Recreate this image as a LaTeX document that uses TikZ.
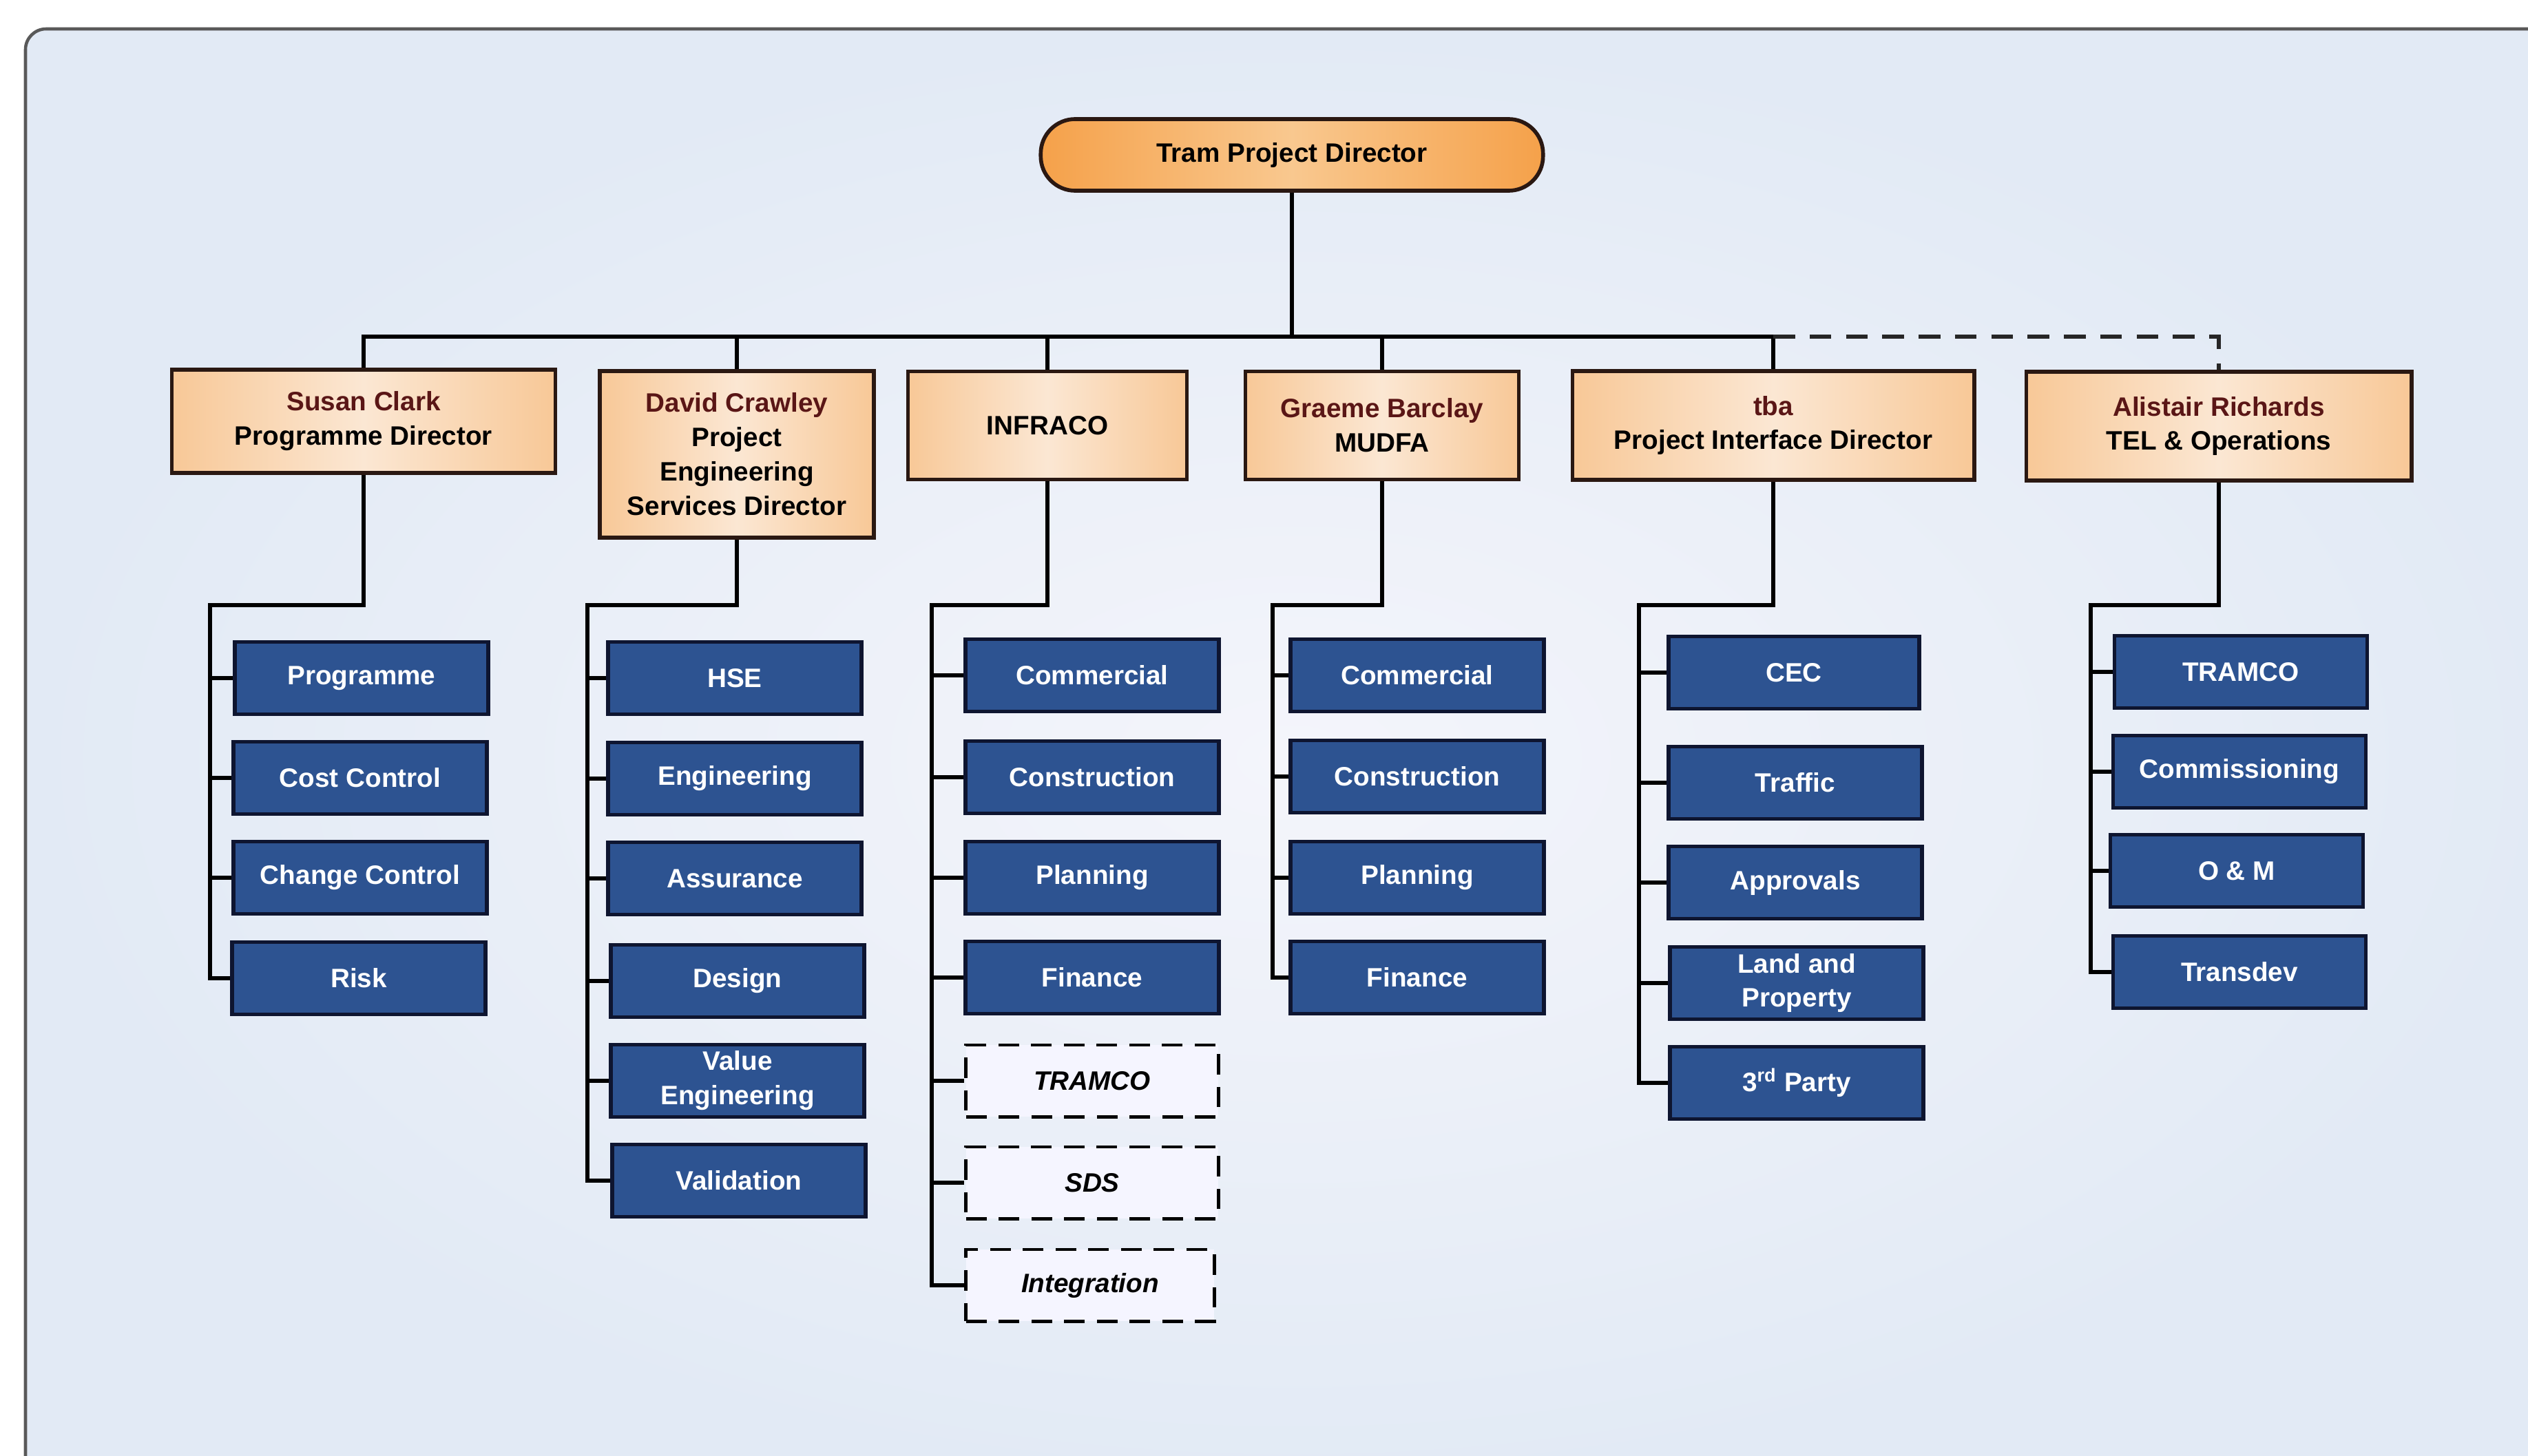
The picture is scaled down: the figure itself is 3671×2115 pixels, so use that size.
\documentclass[tikz,border=0pt]{standalone}
\usepackage{fontspec}
\setmainfont{Liberation Sans}
\definecolor{bgout}{HTML}{E2EAF5}
\definecolor{bgin}{HTML}{F4F5FB}
\definecolor{pch}{HTML}{F8C897}
\definecolor{pchc}{HTML}{FBE7D3}
\definecolor{orgE}{HTML}{F5A14A}
\definecolor{orgC}{HTML}{F9C88F}
\definecolor{bluefill}{HTML}{2D5391}
\definecolor{blueline}{HTML}{0E1530}
\definecolor{nm}{HTML}{5A1616}
\definecolor{boxline}{HTML}{2A1812}
\begin{document}
\begin{tikzpicture}[x=0.01cm,y=-0.01cm,
  txt/.style={font=\bfseries\fontsize{11}{14.2}\selectfont},
  conn/.style={line width=1.5pt, draw=black, line join=miter},
  dashconn/.style={line width=1.5pt, draw=black!85, dash pattern=on 9pt off 6pt},
  tpdbox/.style={txt, draw=boxline, line width=1.6pt, left color=orgE, right color=orgE, middle color=orgC,
     rounded corners=0.5cm, minimum width=7.29cm, minimum height=1.04cm, inner sep=0pt},
  topbox/.style={txt, draw=boxline, line width=1.6pt, left color=pch, right color=pch, middle color=pchc,
     align=center, inner sep=0pt},
  bluebox/.style={txt, draw=blueline, line width=1.6pt, fill=bluefill, text=white, align=center,
     minimum width=3.68cm, minimum height=1.05cm, inner sep=0pt},
  dashbox/.style={font=\bfseries\itshape\fontsize{11}{14.2}\selectfont, draw=black, line width=1.4pt,
     dash pattern=on 8.5pt off 5pt, fill=white!96!blue, minimum width=3.66cm, minimum height=1.04cm, inner sep=0pt}
]
\useasboundingbox (0,0) rectangle (3671,2115);
% background and frame
\fill[white] (0,0) rectangle (3671,2115);
\shade[inner color=bgin, outer color=bgout, rounded corners=0.3cm] (37,2160) -- (37,42) -- (3720,42) -- (3720,2160) -- cycle;
\draw[line width=1.3pt, black!65, rounded corners=0.3cm] (37,2160) -- (37,42) -- (3720,42);

% top level
\node[tpdbox] (tpd) at (1876,225) {Tram Project Director};
\node[topbox, minimum width=5.57cm, minimum height=1.50cm] (sc) at (528,612)
  {\textcolor{nm}{Susan Clark}\\Programme Director};
\node[topbox, minimum width=3.98cm, minimum height=2.42cm] (dc) at (1070,660)
  {\textcolor{nm}{David Crawley}\\Project\\Engineering\\Services Director};
\node[topbox, minimum width=4.05cm, minimum height=1.57cm] (inf) at (1521,618) {INFRACO};
\node[topbox, minimum width=3.97cm, minimum height=1.57cm] (gb) at (2007,618)
  {\textcolor{nm}{Graeme Barclay}\\MUDFA};
\node[topbox, minimum width=5.83cm, minimum height=1.58cm] (tba) at (2575,618)
  {\textcolor{nm}{tba}\\Project Interface Director};
\node[topbox, minimum width=5.59cm, minimum height=1.58cm] (ar) at (3222,619)
  {\textcolor{nm}{Alistair Richards}\\TEL \& Operations};

% bus
\coordinate (bus) at (0,489);
\coordinate (brk) at (0,879);
\draw[conn] (tpd.south) -- (tpd.south |- bus);
\draw[conn] (sc.north) -- (sc.north |- bus) -- (tba.north |- bus) -- (tba.north);
\draw[conn] (dc.north) -- (dc.north |- bus);
\draw[conn] (inf.north) -- (inf.north |- bus);
\draw[conn] (gb.north) -- (gb.north |- bus);
\draw[dashconn] (tba.north |- bus) -- (ar.north |- bus) -- (ar.north);

% column 1
\node[bluebox] (c1a) at (525,985) {Programme};
\node[bluebox] (c1b) at (523,1130) {Cost Control};
\node[bluebox] (c1c) at (523,1275) {Change Control};
\node[bluebox] (c1d) at (521,1421) {Risk};
\coordinate (b1) at (305,879);
\draw[conn] (sc.south) -- (sc.south |- brk) -- (b1) |- (c1d.west);
\foreach \n in {c1a,c1b,c1c} \draw[conn] (b1 |- \n.west) -- (\n.west);

% column 2
\node[bluebox] (c2a) at (1067,985) {HSE};
\node[bluebox] (c2b) at (1067,1131) {Engineering};
\node[bluebox] (c2c) at (1067,1276) {Assurance};
\node[bluebox] (c2d) at (1071,1425) {Design};
\node[bluebox] (c2e) at (1071,1570) {Value\\Engineering};
\node[bluebox] (c2f) at (1073,1715) {Validation};
\coordinate (b2) at (853,879);
\draw[conn] (dc.south) -- (dc.south |- brk) -- (b2) |- (c2f.west);
\foreach \n in {c2a,c2b,c2c,c2d,c2e} \draw[conn] (b2 |- \n.west) -- (\n.west);

% column 3
\node[bluebox] (c3a) at (1586,981) {Commercial};
\node[bluebox] (c3b) at (1586,1129) {Construction};
\node[bluebox] (c3c) at (1586,1275) {Planning};
\node[bluebox] (c3d) at (1586,1420) {Finance};
\node[dashbox] (c3e) at (1586,1570) {TRAMCO};
\node[dashbox] (c3f) at (1586,1718) {SDS};
\node[dashbox, minimum width=3.60cm] (c3g) at (1583,1867) {Integration};
\coordinate (b3) at (1353,879);
\draw[conn] (inf.south) -- (inf.south |- brk) -- (b3) |- (c3g.west);
\foreach \n in {c3a,c3b,c3c,c3d,c3e,c3f} \draw[conn] (b3 |- \n.west) -- (\n.west);

% column 4
\node[bluebox] (c4a) at (2058,981) {Commercial};
\node[bluebox] (c4b) at (2058,1128) {Construction};
\node[bluebox] (c4c) at (2058,1275) {Planning};
\node[bluebox] (c4d) at (2058,1420) {Finance};
\coordinate (b4) at (1848,879);
\draw[conn] (gb.south) -- (gb.south |- brk) -- (b4) |- (c4d.west);
\foreach \n in {c4a,c4b,c4c} \draw[conn] (b4 |- \n.west) -- (\n.west);

% column 5
\node[bluebox, minimum width=3.64cm] (c5a) at (2605,977) {CEC};
\node[bluebox] (c5b) at (2607,1137) {Traffic};
\node[bluebox] (c5c) at (2607,1282) {Approvals};
\node[bluebox] (c5d) at (2609,1428) {Land and\\Property};
\node[bluebox] (c5e) at (2609,1573) {3\textsuperscript{rd} Party};
\coordinate (b5) at (2380,879);
\draw[conn] (tba.south) -- (tba.south |- brk) -- (b5) |- (c5e.west);
\foreach \n in {c5a,c5b,c5c,c5d} \draw[conn] (b5 |- \n.west) -- (\n.west);

% column 6
\node[bluebox, minimum width=3.67cm] (c6a) at (3254,976) {TRAMCO};
\node[bluebox, minimum width=3.67cm] (c6b) at (3252,1121) {Commissioning};
\node[bluebox, minimum width=3.67cm] (c6c) at (3248,1265) {O \& M};
\node[bluebox, minimum width=3.67cm] (c6d) at (3252,1412) {Transdev};
\coordinate (b6) at (3036,879);
\draw[conn] (ar.south) -- (ar.south |- brk) -- (b6) |- (c6d.west);
\foreach \n in {c6a,c6b,c6c} \draw[conn] (b6 |- \n.west) -- (\n.west);
\end{tikzpicture}
\end{document}
